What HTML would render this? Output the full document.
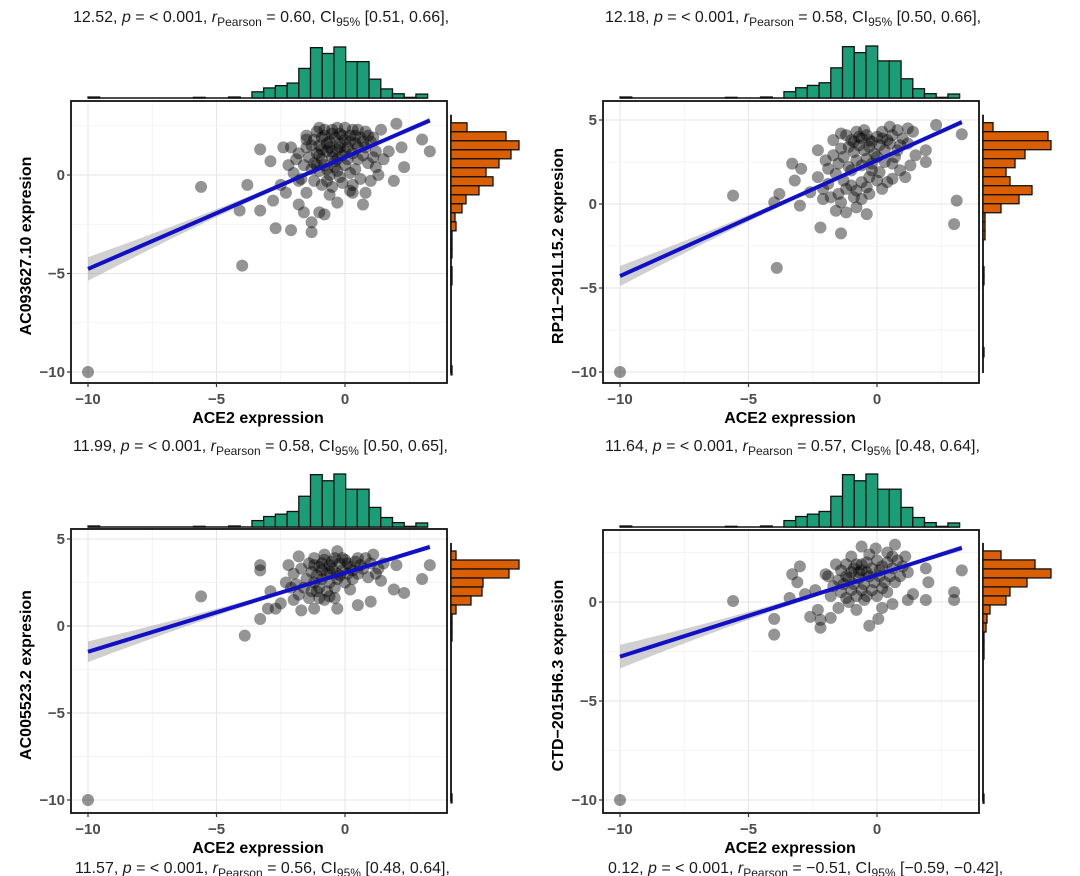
<!DOCTYPE html>
<html><head><meta charset="utf-8">
<style>
html,body{margin:0;padding:0;background:#fff;}
svg{display:block;font-family:"Liberation Sans","Noto Sans CJK SC",sans-serif;}
</style></head>
<body>
<svg id="chart" width="1080" height="876" viewBox="0 0 1080 876"></svg>
<script>
// ---------- DATA ----------
const xTickLabels = ["\u221210", "\u22125", "0"];
const xTickValues = [-10, -5, 0];
const p1YTicks = [0, -5, -10];
const p2YTicks = [5, 0, -5, -10];
const p3YTicks = [5, 0, -5, -10];
const p4YTicks = [0, -5, -10];
const yLabels = ["AC093627.10 expresion", "RP11\u2212291L15.2 expresion", "AC005523.2 expresion", "CTD\u22122015H6.3 expresion"];
const titleStat = ["12.52", "12.18", "11.99", "11.64"];
const titleR = ["0.60", "0.58", "0.58", "0.57"];
const titleCI = ["[0.51, 0.66],", "[0.50, 0.66],", "[0.50, 0.65],", "[0.48, 0.64],"];
const bottomStat = ["11.57", "0.12"];
const bottomR = ["0.56", "\u22120.51"];
const bottomCI = ["[0.48, 0.64],", "[\u22120.59, \u22120.42],"];
const fitIntercept = [0.90, 2.60, 3.05, 1.37];
const fitSlope = [0.567, 0.689, 0.453, 0.413];
// ACE2 histogram (shared x), counts per bin from -10 upward
const topHistCounts = [3,0,0,0,0,0,0,0,0,2,0,0,3,0,19,31,38,46,91,155,137,157,112,112,58,28,13,2,12];
// right histograms, counts listed from top bin downward
const p1RightCounts = [16,55,68,60,48,35,42,28,15,11,4,5,1,1,1,0,1,1,0,0,0,0,0,0,0,0,0,1];
const p2RightCounts = [10,65,68,42,32,23,27,49,36,18,2,2,2,0,0,0,1,1,0,0,0,0,0,0,0,1];
const p3RightCounts = [5,68,58,32,31,20,5,1,1,1,0,0,0,0,0,0,0,0,0,0,0,0,0,0,0,0,0,1];
const p4RightCounts = [18,52,68,44,27,23,7,4,3,1,1,1,0,0,0,0,0,0,0,0,0,0,0,0,0,0,0,1];
const p1Points = [[-10,-10],[-4,-4.6],[-5.6,-0.6],[-3.8,-0.5],[-3.3,1.3],[-2.9,0.7],[-3.3,-1.8],[-4.1,-1.8],[-2.7,-2.7],[-2.1,-2.8],[-1.3,-2.9],[-1.3,-2.4],[-0.8,-2.0],[-0.3,-1.4],[0.7,-1.5],[0.8,-0.9],[1.9,-0.3],[2.3,0.4],[3.0,1.8],[3.3,1.2],[2.0,2.6],[1.4,2.3],[-1.0,2.4],[-2.4,1.4],[-2.1,1.4],[-2.5,-0.5],[-2.8,-1.3],[-1.8,-1.5],[-1.6,-1.9],[-1.0,-1.9],[-1.8,-0.3],[-2.3,-0.9],[-1.5,-0.9],[-0.6,-1.0],[0.3,-0.9],[1.0,-0.3],[1.3,0.0],[1.5,0.8],[1.7,1.2],[2.2,1.4],[1.1,1.9],[0.5,2.3],[0.0,2.4],[-0.5,2.3],[-1.5,2.0],[-1.3,1.5],
[-1.2,1.8],[-1.0,1.5],[-0.8,2.0],[-0.6,1.7],[-0.4,1.9],[-0.2,2.1],[0.0,1.8],[0.2,2.0],[0.4,1.6],[0.6,1.9],[0.8,1.4],[1.0,1.7],[-1.1,1.1],[-0.9,0.8],[-0.7,1.2],[-0.5,0.9],[-0.3,1.3],[-0.1,1.0],[0.1,1.4],[0.3,1.1],[0.5,0.8],[0.7,1.0],[0.9,0.6],[-1.4,0.9],[-1.6,0.5],[-1.3,0.3],[-1.0,0.2],[-0.8,0.5],[-0.6,0.0],[-0.4,0.4],[-0.2,-0.1],[0.0,0.5],[0.2,0.1],[0.4,0.3],[0.6,-0.2],[-1.2,-0.3],[-0.9,-0.5],[-0.5,-0.6],[-0.1,-0.4],[0.3,-0.5],[-1.5,1.4],[-0.8,2.3],[-0.3,2.4],[0.3,2.3],[0.8,2.2],[1.2,1.2],[1.2,0.4],[-1.9,0.8],[-2.0,0.1],[-1.7,-0.2],[-1.1,2.2],[-0.6,1.4],[-0.2,1.6],[0.1,0.8],[-0.4,0.7],[-0.9,1.3],[-1.2,0.6],[0.5,1.4],[0.7,1.7],[-0.7,0.3],[-0.1,2.0],[0.0,1.2],[-1.5,1.8],[-0.3,0.2],[-0.7,-0.3],[0.9,2.0],[1.1,0.9],[-1.8,1.1],[-2.2,0.5],[0.2,-0.8],[-0.9,1.9],[-0.5,2.1],[-0.2,1.4],[0.2,1.7],[-0.7,1.6],[-1.0,1.0],[-0.3,0.8],[0.4,2.0],[-1.1,0.5],[-0.5,1.2]];
const p2Points = [[-10,-10],[-3.9,-3.8],[-5.6,0.5],[-4.0,0.1],[-3.8,0.6],[-3.3,2.4],[-3.2,1.4],[-2.95,2.1],[-2.3,3.2],[-2.3,1.6],[-3.0,-0.1],[-2.2,-1.4],[-1.4,-1.75],[-0.4,-0.6],[3.0,-1.2],[3.1,0.2],[3.3,4.15],[2.3,4.7],[1.9,2.5],[1.9,3.2],[1.5,2.9],[-2.6,0.7],[-2.1,0.9],[-1.8,0.4],[-1.6,-0.4],[-1.2,-0.5],[-0.8,-0.2],[-2.0,2.6],[-1.7,3.8],[-1.4,4.2],[1.2,3.6],[0.8,3.2],[1.4,4.3],[1.1,1.6],[0.6,1.5],[0.2,0.9],[-0.3,0.6],
[-1.2,4.1],[-1.0,3.8],[-0.8,4.3],[-0.6,3.9],[-0.4,4.1],[-0.2,3.7],[0.0,4.0],[0.2,4.3],[0.4,3.8],[0.6,4.1],[0.8,4.4],[1.0,3.9],[-1.1,3.4],[-0.9,3.1],[-0.7,3.5],[-0.5,3.2],[-0.3,3.4],[-0.1,3.0],[0.1,3.5],[0.3,3.2],[0.5,3.6],[0.7,2.8],[-1.3,2.8],[-1.5,2.4],[-1.1,2.2],[-0.8,2.6],[-0.6,2.3],[-0.4,2.7],[-0.2,2.4],[0.0,2.8],[0.3,2.5],[-1.6,1.8],[-1.3,1.4],[-1.0,1.1],[-0.8,0.8],[-0.6,1.3],[-0.4,1.0],[-1.9,1.2],[-2.1,0.3],[-1.5,0.6],[-1.2,0.9],[-0.9,0.4],[-0.3,1.6],[0.1,1.9],[0.4,1.3],[-1.7,2.9],[-1.9,2.1],[1.3,2.3],[0.9,2.0],[-0.5,4.4],[0.5,4.6],[1.2,4.5],[-1.4,3.3],[-0.2,2.0],[0.6,2.4],[-1.0,2.0],[-1.4,0.1],[-0.6,0.3],[0.0,1.4],[-0.9,3.7],[0.2,3.9],[0.9,3.5],[-0.3,3.8],[-0.7,4.0]];
const p3Points = [[-10,-10],[-5.6,1.7],[-3.9,-0.55],[-3.3,0.4],[-3.3,3.5],[-3.3,3.2],[-2.9,2.0],[-3.0,1.0],[-2.7,1.0],[-2.2,3.5],[1.9,2.1],[2.3,1.9],[3.0,2.7],[3.3,3.5],[2.0,3.5],[-2.5,1.3],[-2.0,1.5],[-1.7,0.9],[-1.2,1.0],[-0.3,1.0],[0.5,1.2],[1.0,1.4],[1.4,2.6],[-2.3,2.5],[-1.8,4.0],[1.1,4.1],[-0.3,4.3],
[-1.4,3.6],[-1.2,3.9],[-1.0,3.4],[-0.8,3.8],[-0.6,3.5],[-0.4,3.9],[-0.2,3.6],[0.0,3.8],[0.2,3.4],[0.4,3.7],[0.6,3.5],[0.8,3.9],[1.0,3.6],[1.3,3.3],[-1.3,3.1],[-1.1,2.9],[-0.9,3.2],[-0.7,3.0],[-0.5,3.3],[-0.3,3.0],[-0.1,3.2],[0.1,3.0],[0.3,3.2],[0.5,3.0],[0.7,3.3],[-1.5,2.7],[-1.2,2.5],[-0.9,2.7],[-0.6,2.5],[-0.3,2.7],[0.0,2.5],[0.3,2.7],[-1.6,2.2],[-1.3,2.0],[-1.0,2.2],[-0.7,2.0],[-0.4,2.2],[-1.8,1.8],[-1.4,1.6],[-1.0,1.6],[-0.6,1.7],[-1.7,3.3],[-2.0,3.0],[-1.9,2.4],[-0.1,3.9],[0.5,3.9],[-0.8,4.1],[1.5,3.6],[0.9,2.8],[-1.2,3.5],[-0.5,3.7],[0.1,3.6],[-0.9,3.6],[-0.2,2.9],[-0.6,3.1],[-1.1,2.0],[-0.8,1.5],[-2.1,2.2],[1.2,3.0],[-0.4,1.6],[0.2,2.1]];
const p4Points = [[-10,-10],[-5.6,0.05],[-4.0,-1.65],[-4.0,-0.85],[-3.3,1.4],[-3.4,0.2],[-3.0,1.8],[-2.6,-0.75],[-2.2,-1.3],[-2.2,-0.9],[-2.3,-0.4],[-0.3,-1.2],[0.05,-0.85],[1.9,0.1],[3.0,0.5],[3.0,0.1],[3.3,1.6],[2.0,1.0],[1.9,1.7],[0.7,2.9],[-0.6,2.8],[-0.05,2.7],[-3.1,1.0],[-2.8,0.4],[-1.8,-0.8],[-1.5,-0.3],[-0.8,-0.4],[0.2,-0.3],[0.6,-0.1],[1.2,0.1],[1.4,0.4],[-2.4,0.6],[-2.0,1.4],
[-1.4,1.6],[-1.2,1.9],[-1.0,1.5],[-0.8,1.9],[-0.6,1.6],[-0.4,2.0],[-0.2,1.7],[0.0,2.1],[0.2,1.8],[0.4,2.0],[0.6,1.7],[0.8,2.1],[1.0,1.8],[1.2,1.5],[-1.5,1.1],[-1.3,0.9],[-1.1,1.2],[-0.9,0.9],[-0.7,1.2],[-0.5,0.9],[-0.3,1.3],[-0.1,1.0],[0.1,1.3],[0.3,1.0],[0.5,1.3],[0.7,1.0],[0.9,1.3],[-1.4,0.5],[-1.2,0.2],[-1.0,0.6],[-0.8,0.3],[-0.6,0.6],[-0.4,0.3],[-0.2,0.6],[0.0,0.3],[0.4,0.5],[-1.7,0.8],[-1.9,1.3],[-1.6,1.9],[-1.0,2.3],[-0.3,2.4],[0.4,2.5],[1.1,2.3],[-1.2,1.3],[-0.6,1.9],[0.1,1.6],[-0.9,1.7],[-0.4,1.5],[0.6,2.3],[-1.1,0.0],[-0.5,0.1],[-1.8,0.3],[-0.7,1.5],[0.2,0.7]];

// ---------- LAYOUT ----------
const svg = document.getElementById('chart');
const NS = 'http://www.w3.org/2000/svg';
function mk(tag, attrs, parent){const e=document.createElementNS(NS,tag);for(const k in attrs)e.setAttribute(k,attrs[k]);(parent||svg).appendChild(e);return e;}

const panels = [
 {box:[71,101,447,383], xm10:88, xpu:25.7, y0:175, ypu:19.7, ticks:p1YTicks, pts:p1Points, right:p1RightCounts, rTop:2.65, rW:0.457, rLen:68, hb:98, hh:51, titleY:22},
 {box:[603,101,979,383], xm10:620, xpu:25.7, y0:204, ypu:16.8, ticks:p2YTicks, pts:p2Points, right:p2RightCounts, rTop:4.84, rW:0.536, rLen:68, hb:98, hh:52, titleY:22},
 {box:[71,529,447,813], xm10:88, xpu:25.7, y0:626, ypu:17.4, ticks:p3YTicks, pts:p3Points, right:p3RightCounts, rTop:4.31, rW:0.517, rLen:68, hb:527, hh:53, titleY:451},
 {box:[603,530,979,813], xm10:620, xpu:25.7, y0:602, ypu:19.8, ticks:p4YTicks, pts:p4Points, right:p4RightCounts, rTop:2.58, rW:0.455, rLen:68, hb:527, hh:53, titleY:451}
];

function statTitle(x, y, stat, r, ci, name){
  const t = mk('text',{x:x,y:y,'font-size':16,fill:'#1a1a1a'});
  
  
  const parts=[[stat+', ',''],['p','i'],[' = < 0.001, ',''],['r','i'],['Pearson','s'],[' = '+r+', CI',''],['95%','s'],[' '+ci,'']];
  let lastSub=false;
  parts.forEach(p=>{const s=mk('tspan',{},t);s.textContent=p[0];
    if(p[1]==='i')s.setAttribute('font-style','italic');
    if(p[1]==='s'){s.setAttribute('font-size',12);s.setAttribute('dy',4);}
    else if(lastSub){s.setAttribute('dy',-4);}
    lastSub = p[1]==='s';
  });
  return t;
}

panels.forEach((P,i)=>{
  const g = mk('g',{});
  
  
  const sx = v=>P.xm10+(v+10)*P.xpu;
  const sy = v=>P.y0-v*P.ypu;
  const [bx0,by0,bx1,by1]=P.box;
  const cid='clip'+i;
  const cp=mk('clipPath',{id:cid},g); mk('rect',{x:bx0,y:by0,width:bx1-bx0,height:by1-by0},cp);
  const grid=mk('g',{'clip-path':'url(#'+cid+')'},g);
  
  
  [-10,-7.5,-5,-2.5,0,2.5].forEach(v=>{mk('line',{x1:sx(v),x2:sx(v),y1:by0,y2:by1,stroke:Number.isInteger(v)?'#e6e6e6':'#f1f1f1','stroke-width':Number.isInteger(v)?1.1:0.8},grid);});
  [-10,-7.5,-5,-2.5,0,2.5,5].forEach(v=>{mk('line',{y1:sy(v),y2:sy(v),x1:bx0,x2:bx1,stroke:Number.isInteger(v)?'#e6e6e6':'#f1f1f1','stroke-width':Number.isInteger(v)?1.1:0.8},grid);});
  const pg=mk('g',{'clip-path':'url(#'+cid+')'},g);
  
  
  P.pts.forEach(p=>{const c=mk('circle',{cx:sx(p[0]),cy:sy(p[1]),r:6,fill:'rgba(0,0,0,0.42)'},pg);
    
    });
  const a=fitIntercept[i], b=fitSlope[i];
  const xs=[]; for(let k=0;k<=40;k++) xs.push(-10+k*13.3/40);
  const hw=v=>0.08+0.0055*(v+0.3)*(v+0.3);
  let d='M'+xs.map(v=>sx(v)+','+sy(a+b*v+hw(v))).join(' L')+' L'+xs.slice().reverse().map(v=>sx(v)+','+sy(a+b*v-hw(v))).join(' L')+'Z';
  const band=mk('path',{d:d,fill:'rgba(150,150,150,0.45)','clip-path':'url(#'+cid+')'},g);
  
  
  const fl=mk('line',{x1:sx(-10),y1:sy(a+b*-10),x2:sx(3.3),y2:sy(a+b*3.3),stroke:'#1010c8','stroke-width':4},g);
  
  
  const bx=mk('rect',{x:bx0,y:by0,width:bx1-bx0,height:by1-by0,fill:'none',stroke:'#111','stroke-width':1.8},g);
  
  
  xTickValues.forEach((v,k)=>{
    mk('line',{x1:sx(v),x2:sx(v),y1:by1,y2:by1+4,stroke:'#333','stroke-width':1.2},g);
    const t=mk('text',{x:sx(v),y:by1+21,'text-anchor':'middle','font-size':15,'font-weight':'bold',fill:'#4d4d4d'},g);
    t.textContent=xTickLabels[k];
    
    
  });
  P.ticks.forEach(v=>{
    mk('line',{x1:bx0-4,x2:bx0,y1:sy(v),y2:sy(v),stroke:'#333','stroke-width':1.2},g);
    const t=mk('text',{x:bx0-6,y:sy(v)+5,'text-anchor':'end','font-size':15,'font-weight':'bold',fill:'#4d4d4d'},g);
    t.textContent=v<0?'\u2212'+(-v):String(v);
    
    
  });
  const xl=mk('text',{x:(bx0+bx1)/2-1,y:by1+40,'text-anchor':'middle','font-size':16,'font-weight':'bold',fill:'#000'},g);
  xl.textContent='ACE2 expression';
  
  
  const cy=(by0+by1)/2+4, cx=bx0-40;
  const yl=mk('text',{x:cx,y:cy,'text-anchor':'middle','font-size':16,'font-weight':'bold',fill:'#000',transform:'rotate(-90 '+cx+' '+cy+')'},g);
  yl.textContent=yLabels[i];
  
  
  const th=mk('g',{},g);
  
  
  const bw=0.4557, maxT=Math.max(...topHistCounts);
  mk('line',{x1:sx(-10),x2:sx(-10+topHistCounts.length*bw),y1:P.hb,y2:P.hb,stroke:'#111','stroke-width':1.5},th);
  topHistCounts.forEach((c,k)=>{ if(!c) return;
    const h=c/maxT*P.hh;
    const r=mk('rect',{x:sx(-10+k*bw),y:P.hb-h,width:bw*P.xpu,height:h,fill:'#1b9e77',stroke:'#111','stroke-width':1.3},th);
    
    
  });
  const rh=mk('g',{},g);
  
  
  const rx=bx1+4, maxR=Math.max(...P.right);
  mk('line',{x1:rx,x2:rx,y1:sy(P.rTop)-8,y2:sy(-10)+1,stroke:'#111','stroke-width':1.8},rh);
  P.right.forEach((c,k)=>{ if(!c) return;
    const w=c/maxR*P.rLen, top=P.rTop-k*P.rW;
    const r=mk('rect',{x:rx,y:sy(top),width:Math.max(w,1),height:P.rW*P.ypu,fill:'#d95f02',stroke:'#111','stroke-width':1.3},rh);
    
    
  });
  statTitle(bx0+2, P.titleY, titleStat[i], titleR[i], titleCI[i], 'panel-title-'+(i+1));
});
statTitle(75, 873, bottomStat[0], bottomR[0], bottomCI[0], 'next-panel-title-left');
statTitle(608, 873, bottomStat[1], bottomR[1], bottomCI[1], 'next-panel-title-right');
</script>
</body></html>
